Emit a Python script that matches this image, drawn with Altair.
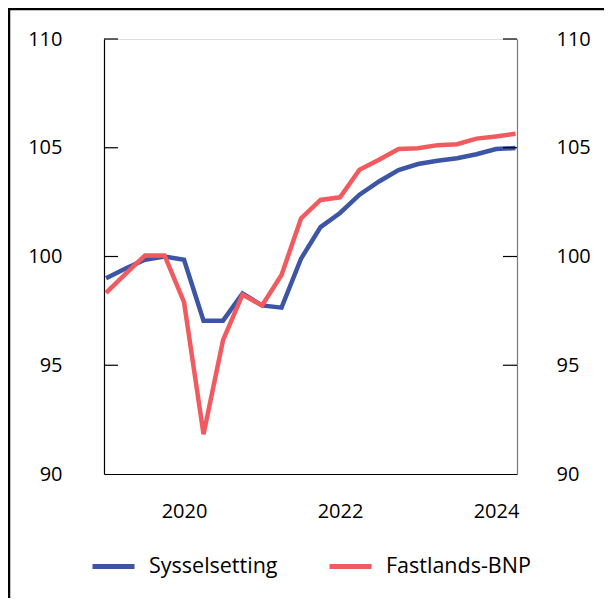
import altair as alt
import pandas as pd

quarters = ["2019K1", "2019K2", "2019K3", "2019K4",
            "2020K1", "2020K2", "2020K3", "2020K4",
            "2021K1", "2021K2", "2021K3", "2021K4",
            "2022K1", "2022K2", "2022K3", "2022K4",
            "2023K1", "2023K2", "2023K3", "2023K4",
            "2024K1", "2024K2"]
sysselsetting = [99.0, 99.45, 99.85, 100.0,
                 99.85, 97.05, 97.05, 98.3,
                 97.75, 97.65, 99.9, 101.35,
                 102.0, 102.84, 103.45, 103.97,
                 104.25, 104.4, 104.52, 104.7,
                 104.94, 104.99]
fastlands_bnp = [98.33, 99.2, 100.05, 100.05,
                 97.9, 91.83, 96.15, 98.25,
                 97.75, 99.15, 101.75, 102.6,
                 102.72, 103.99, 104.45, 104.94,
                 104.98, 105.12, 105.16, 105.42,
                 105.52, 105.64]
series_names = ["Sysselsetting", "Fastlands-BNP"]
series_colors = ["#3d55a5", "#f15b60"]
y_ticks = [90, 95, 100, 105, 110]
x_ticks = [2020, 2022, 2024]

def qpos(q):
    return int(q[:4]) + (int(q[-1]) - 1) / 4

rows = []
for q, a, b in zip(quarters, sysselsetting, fastlands_bnp):
    rows.append({"t": qpos(q), "serie": series_names[0], "verdi": a})
    rows.append({"t": qpos(q), "serie": series_names[1], "verdi": b})
df = pd.DataFrame(rows)
tick_df = pd.DataFrame({"v": y_ticks[1:]})

W, H = 413, 435
FONT = "Open Sans"

xscale = alt.Scale(domain=[2018.974, 2024.269], nice=False, zero=False)
yscale = alt.Scale(domain=[90, 110], nice=False, zero=False)

lines = alt.Chart(df).mark_line(strokeWidth=4.5, clip=False).encode(
    x=alt.X("t:Q", scale=xscale,
            axis=alt.Axis(values=x_ticks, format="d", title=None, grid=False,
                          ticks=False, domainColor="black", domainWidth=1.2,
                          labelFontSize=20, labelFont=FONT, labelColor="black",
                          labelPadding=27)),
    y=alt.Y("verdi:Q", scale=yscale,
            axis=alt.Axis(values=y_ticks, title=None, grid=False, ticks=False,
                          domainColor="black", domainWidth=1.2,
                          labelFontSize=20, labelFont=FONT, labelColor="black",
                          labelPadding=42)),
    color=alt.Color("serie:N",
                    scale=alt.Scale(domain=series_names, range=series_colors),
                    sort=series_names,
                    legend=alt.Legend(title=None, orient="none", direction="horizontal",
                                      legendX=-14, legendY=504,
                                      symbolType="stroke", symbolSize=1764,
                                      symbolStrokeWidth=5, labelFontSize=21.5,
                                      labelFont=FONT, labelColor="black",
                                      labelOffset=12, columnPadding=41)),
)

left_ticks = alt.Chart(tick_df).mark_rule(color="black", strokeWidth=1.2).encode(
    y=alt.Y("v:Q", scale=yscale, axis=None),
    x=alt.value(0), x2=alt.value(14),
)

right_axis = alt.Chart(tick_df).mark_rule(color="black", strokeWidth=1.2).encode(
    y=alt.Y("v:Q", scale=yscale,
            axis=alt.Axis(orient="right", values=y_ticks, title=None, grid=False,
                          ticks=False, domainColor="#777777", domainWidth=1.2,
                          labelFontSize=20, labelFont=FONT, labelColor="black",
                          labelPadding=39)),
    x=alt.value(W - 14), x2=alt.value(W),
)

frame_df = pd.DataFrame({"k": [0]})
frame_left = alt.Chart(frame_df).mark_rule(color="black", strokeWidth=2.5).encode(
    x=alt.value(-95), y=alt.value(-31), y2=alt.value(700))
frame_top = alt.Chart(frame_df).mark_rule(color="black", strokeWidth=2.5).encode(
    y=alt.value(-30), x=alt.value(-96), x2=alt.value(700))

chart = alt.layer(lines, left_ticks, right_axis, frame_left, frame_top).resolve_scale(
    y="independent"
).properties(
    width=W, height=H,
    autosize=alt.AutoSizeParams(type="none"),
    padding={"left": 96, "top": 31, "right": 87, "bottom": 124},
).configure_view(stroke=None).configure(background="white")

chart.save("out.html", embed_options={"renderer": "svg", "actions": False})
